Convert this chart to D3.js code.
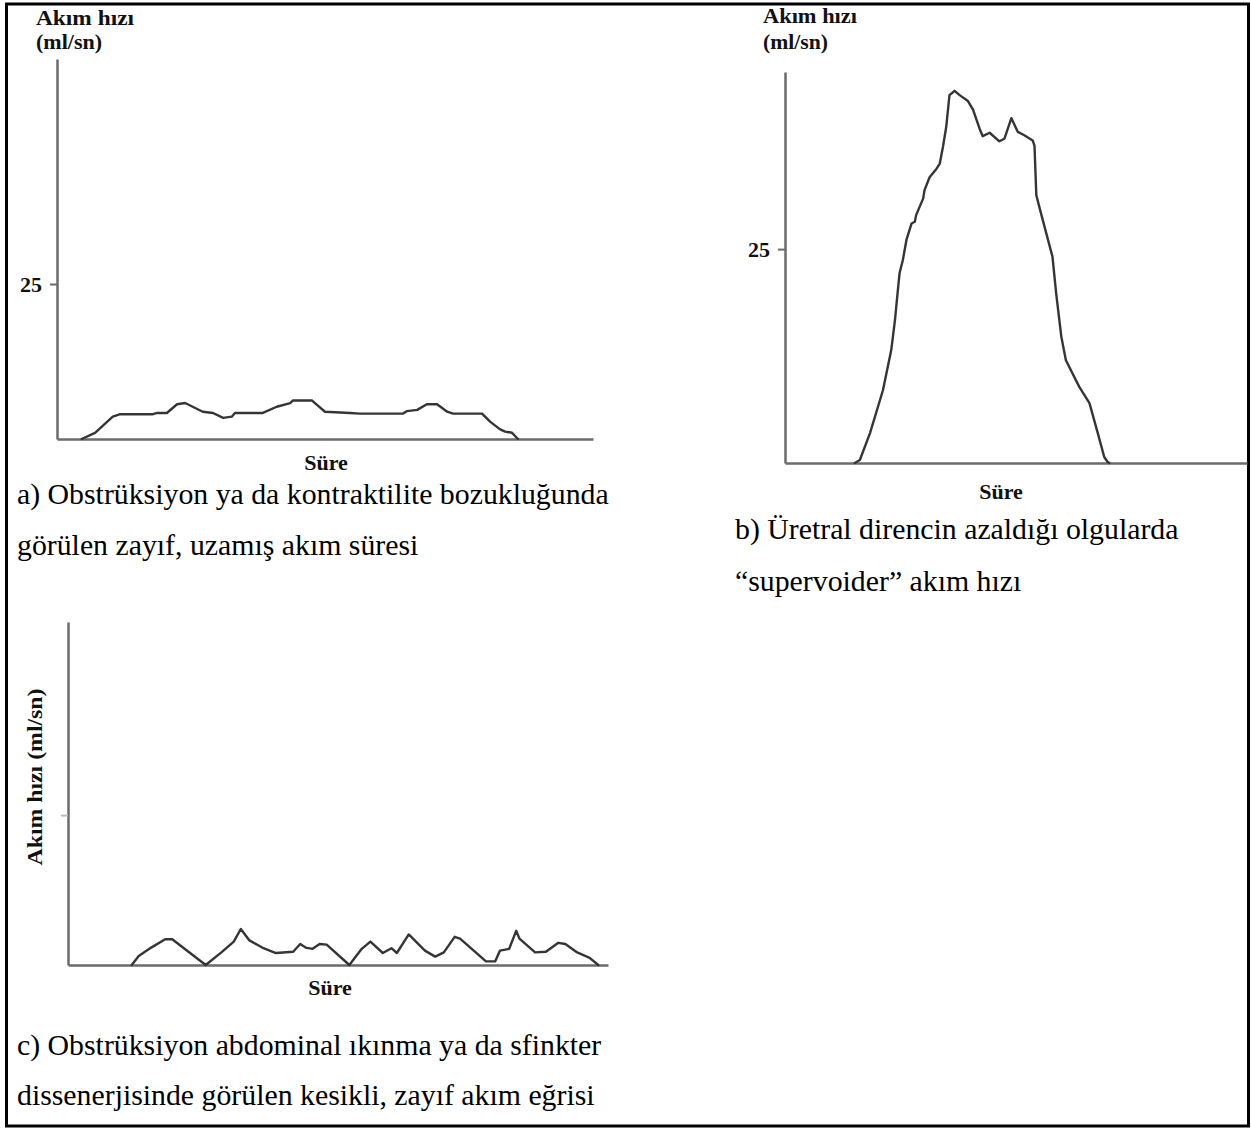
<!DOCTYPE html>
<html>
<head>
<meta charset="utf-8">
<script src="https://cdn.jsdelivr.net/npm/d3@7"></script>
<style>
  html, body { margin: 0; padding: 0; background: #fff; }
  svg { display: block; }
</style>
</head>
<body>
<svg id="chart" width="1251" height="1129"></svg>
<script>
// ---------- DATA ----------
// Panel a: weak, prolonged flow (time units, ml/sn)
const timeA = [4.6, 7.1, 10.4, 11.8, 17.9, 18.7, 20.5, 22.4, 23.9, 27.2, 29.1, 31.0, 32.6, 33.2, 38.4, 41.0, 43.5, 44.0, 47.6, 48.5, 50.0, 54.7, 56.5, 64.6, 65.3, 67.2, 69.0, 70.9, 72.8, 73.9, 79.3, 80.8, 82.6, 83.6, 84.9, 86.0];
const flowA = [0, 1.0, 3.6, 4.0, 4.0, 4.2, 4.2, 5.6, 5.8, 4.4, 4.2, 3.4, 3.6, 4.2, 4.2, 5.2, 5.8, 6.2, 6.2, 5.5, 4.4, 4.2, 4.1, 4.1, 4.5, 4.7, 5.6, 5.6, 4.4, 4.1, 4.1, 2.8, 1.6, 1.2, 1.0, 0];

// Panel b: "supervoider" flow
const timeB = [15.1, 16.2, 18.4, 21.2, 23.0, 23.8, 24.5, 24.8, 25.5, 26.3, 27.4, 28.1, 28.4, 29.9, 30.2, 31.3, 32.8, 33.5, 34.2, 34.9, 35.6, 36.7, 37.8, 39.6, 40.7, 42.1, 42.8, 44.3, 46.4, 47.5, 49.0, 50.4, 51.8, 53.6, 54.0, 54.4, 55.4, 57.9, 58.7, 59.8, 60.8, 63.7, 65.9, 67.7, 69.1, 69.8, 70.2];
const flowB = [0, 0.35, 3.5, 8.5, 13.2, 16.7, 20.6, 22.2, 23.7, 26.1, 28.0, 28.2, 29.0, 30.9, 31.9, 33.4, 34.4, 35.0, 37.0, 39.3, 43.0, 43.5, 43.0, 42.3, 41.3, 39.1, 38.2, 38.6, 37.6, 37.9, 40.3, 38.7, 38.3, 37.7, 37.1, 31.3, 29.2, 24.1, 19.8, 14.8, 12.0, 8.9, 7.0, 3.5, 0.7, 0.15, 0];

// Panel c: intermittent, weak flow
const timeC = [11.8, 13.1, 15.4, 18.0, 19.3, 25.5, 28.4, 30.7, 32.0, 33.6, 36.2, 38.5, 41.7, 43.0, 44.0, 45.3, 46.6, 47.9, 52.1, 54.4, 56.0, 58.3, 59.9, 60.9, 63.1, 66.1, 68.0, 69.6, 71.6, 72.6, 77.4, 79.1, 80.0, 81.7, 83.0, 83.6, 86.5, 88.5, 90.8, 92.1, 94.3, 96.6, 98.2];
const flowC = [0, 1.5, 2.9, 4.3, 4.3, 0, 2.1, 3.9, 6.0, 4.1, 2.8, 2.0, 2.2, 3.5, 2.9, 2.7, 3.5, 3.4, 0, 2.7, 3.9, 2.0, 2.8, 2.0, 5.1, 2.4, 1.4, 2.1, 4.7, 4.4, 0.6, 0.6, 2.4, 2.7, 5.7, 4.4, 2.1, 2.2, 3.7, 3.5, 2.1, 1.2, 0];

// Tick values / labels
const yTickValues = [25];
const yAxisTitleLines = ["Akım hızı", "(ml/sn)"];
const yAxisTitleRotated = "Akım hızı (ml/sn)";
const xAxisTitle = "Süre";
const captionA = ["a) Obstrüksiyon ya da kontraktilite bozukluğunda", "görülen zayıf, uzamış akım süresi"];
const captionB = ["b) Üretral direncin azaldığı olgularda", "“supervoider” akım hızı"];
const captionC = ["c) Obstrüksiyon abdominal ıkınma ya da sfinkter", "dissenerjisinde görülen kesikli, zayıf akım eğrisi"];

// ---------- DRAWING ----------
const svg = d3.select("#chart");
const SERIF = "'Liberation Serif', 'Times New Roman', serif";
const AXIS_COLOR = "#6b6b6b";
const LINE_COLOR = "#353535";

svg.append("rect").attr("x", 0).attr("y", 0).attr("width", 1251).attr("height", 1129).attr("fill", "#fff");

// outer border
svg.append("rect")
  .attr("x", 6.5).attr("y", 4).attr("width", 1242).attr("height", 1122)
  .attr("fill", "none").attr("stroke", "#000").attr("stroke-width", 3);

function panel(cfg) {
  const g = svg.append("g");
  const x = d3.scaleLinear().domain([0, 100]).range([cfg.x0, cfg.x1]);
  const y = d3.scaleLinear().domain([0, cfg.yMax]).range([cfg.y0, cfg.yTop]);

  // y axis
  const yAxis = d3.axisLeft(y).tickValues(yTickValues).tickSize(7).tickSizeOuter(0)
    .tickFormat(cfg.showTickLabel ? d3.format("d") : () => "");
  const ya = g.append("g").attr("transform", `translate(${cfg.x0},0)`).call(yAxis);
  ya.select(".domain").attr("stroke", AXIS_COLOR).attr("stroke-width", 2.5);
  ya.selectAll(".tick line").attr("stroke", cfg.showTickLabel ? AXIS_COLOR : "#bbb").attr("stroke-width", 2);
  ya.selectAll(".tick text")
    .attr("font-family", SERIF).attr("font-weight", "bold").attr("font-size", 22)
    .attr("fill", "#111").attr("x", -15);

  // x axis
  const xAxis = d3.axisBottom(x).tickValues([]).tickSizeOuter(0);
  const xa = g.append("g").attr("transform", `translate(0,${cfg.y0})`).call(xAxis);
  xa.select(".domain").attr("stroke", AXIS_COLOR).attr("stroke-width", 2.5);

  // curve
  const pts = cfg.t.map((t, i) => [t, cfg.f[i]]);
  g.append("path")
    .datum(pts)
    .attr("d", d3.line().x(d => x(d[0])).y(d => y(d[1])))
    .attr("fill", "none").attr("stroke", LINE_COLOR)
    .attr("stroke-width", 2.4).attr("stroke-linejoin", "round").attr("stroke-linecap", "round");

  // axis titles
  if (cfg.titleTop) {
    yAxisTitleLines.forEach((s, i) => {
      g.append("text").text(s)
        .attr("x", cfg.titleTop.x).attr("y", cfg.titleTop.y[i])
        .attr("font-family", SERIF).attr("font-weight", "bold").attr("font-size", 21)
        .attr("fill", "#111")
        .attr("textLength", cfg.titleTop.w[i]).attr("lengthAdjust", "spacingAndGlyphs");
    });
  }
  if (cfg.titleSide) {
    g.append("text").text(yAxisTitleRotated)
      .attr("transform", `translate(${cfg.titleSide.x},${cfg.titleSide.y}) rotate(-90)`)
      .attr("text-anchor", "middle")
      .attr("font-family", SERIF).attr("font-weight", "bold").attr("font-size", 21)
      .attr("fill", "#111")
      .attr("textLength", 177).attr("lengthAdjust", "spacingAndGlyphs");
  }
  g.append("text").text(xAxisTitle)
    .attr("x", cfg.sure.x).attr("y", cfg.sure.y)
    .attr("text-anchor", "middle")
    .attr("font-family", SERIF).attr("font-weight", "bold").attr("font-size", 22)
    .attr("fill", "#111");

  // caption
  cfg.caption.forEach((s, i) => {
    g.append("text").text(s)
      .attr("x", cfg.capX).attr("y", cfg.capY[i])
      .attr("font-family", SERIF).attr("font-size", 29.8)
      .attr("fill", "#000");
  });
}

panel({
  t: timeA, f: flowA, x0: 57, x1: 593, y0: 439, yTop: 59, yMax: 61.3, showTickLabel: true,
  titleTop: { x: 36, y: [25, 49], w: [98, 66] },
  sure: { x: 326, y: 470 },
  caption: captionA, capX: 17, capY: [504, 555]
});

panel({
  t: timeB, f: flowB, x0: 785, x1: 1247, y0: 463, yTop: 72, yMax: 45.7, showTickLabel: true,
  titleTop: { x: 763, y: [23, 49], w: [94, 65] },
  sure: { x: 1001, y: 499 },
  caption: captionB, capX: 735, capY: [539, 591]
});

panel({
  t: timeC, f: flowC, x0: 68, x1: 608, y0: 965, yTop: 622, yMax: 57.2, showTickLabel: false,
  titleSide: { x: 42, y: 777 },
  sure: { x: 330, y: 995 },
  caption: captionC, capX: 17, capY: [1055, 1105]
});
</script>
</body>
</html>
